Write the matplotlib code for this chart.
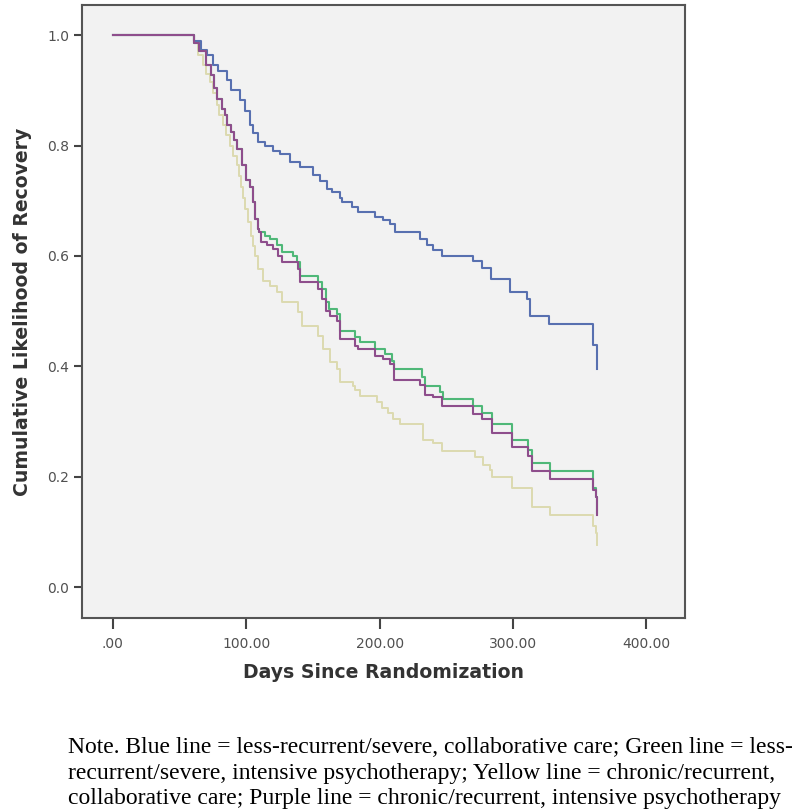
import numpy as np
import matplotlib.pyplot as plt

# Kaplan-Meier step curves: day at which the curve drops, and the new value
blue_t = [0, 61, 66, 70.3, 75, 79, 85.3, 89, 95.3, 99, 102.8, 105, 108.8, 114, 120,
          125.3, 132.8, 140.3, 150, 155.3, 160.3, 164, 170.3, 171.5, 179, 183.8,
          196.5, 202.5, 207.8, 211.5, 230.3, 235.3, 240, 246.5, 269.8, 276.5,
          283.3, 297.8, 310.3, 312.8, 327, 360.2, 362.8]
blue_s = [1.0, 0.989, 0.974, 0.964, 0.946, 0.935, 0.919, 0.9, 0.882, 0.862, 0.837,
          0.822, 0.807, 0.8, 0.791, 0.785, 0.771, 0.762, 0.746, 0.735, 0.722, 0.716,
          0.705, 0.698, 0.689, 0.68, 0.671, 0.665, 0.658, 0.644, 0.631, 0.619, 0.61,
          0.6, 0.59, 0.579, 0.558, 0.535, 0.522, 0.491, 0.476, 0.438, 0.395]

common_t = [0, 61, 65, 70, 74, 76, 78, 82, 84, 86, 89, 91, 93, 97, 100, 103, 105,
            107, 109, 110]
common_s = [1.0, 0.985, 0.971, 0.946, 0.928, 0.904, 0.885, 0.867, 0.855, 0.837,
            0.825, 0.81, 0.794, 0.764, 0.738, 0.725, 0.698, 0.667, 0.649, 0.644]

green_t = common_t + [114, 118, 123, 126.5, 135, 138, 140, 154, 156.5, 160, 162,
                      168, 170, 181.5, 185, 196.5, 204, 209, 210.5, 231.5, 234,
                      245, 247.5, 270, 276.5, 284, 299, 311, 314, 328, 360, 362.5, 363]
green_s = common_s + [0.637, 0.631, 0.619, 0.607, 0.6, 0.589, 0.564, 0.552, 0.54,
                      0.516, 0.504, 0.495, 0.464, 0.453, 0.444, 0.431, 0.422, 0.41,
                      0.395, 0.38, 0.364, 0.353, 0.34, 0.329, 0.316, 0.295, 0.267,
                      0.249, 0.225, 0.211, 0.18, 0.164, 0.135]

purple_t = common_t + [111.5, 116, 120, 124, 126.5, 139, 140.5, 154, 156.5, 160,
                       163, 168, 170.5, 181.5, 184, 196.5, 202.5, 208, 210.5, 230.5,
                       234, 240, 246.5, 270, 276.5, 284, 299, 311, 314, 328, 360,
                       362.5, 363]
purple_s = common_s + [0.625, 0.619, 0.613, 0.6, 0.589, 0.576, 0.553, 0.54, 0.522,
                       0.5, 0.491, 0.482, 0.449, 0.437, 0.431, 0.419, 0.413, 0.404,
                       0.376, 0.367, 0.349, 0.344, 0.328, 0.313, 0.304, 0.28, 0.253,
                       0.237, 0.211, 0.196, 0.176, 0.164, 0.13]

yellow_t = [0, 61, 64, 67.5, 70, 72.8, 75, 77.8, 80, 82.5, 85, 87.8, 90, 92.8, 95,
            96.5, 98, 99, 101.5, 104, 105.5, 106.5, 108.8, 112.5, 117.8, 122.8,
            126.5, 138.8, 141.5, 153.8, 157.5, 162.8, 167.8, 170.3, 180, 181.5,
            185.3, 197.8, 201.5, 206.3, 210, 215.3, 232.5, 240, 246.5, 271.5, 277.5,
            282.8, 284, 299, 314, 328, 360, 362.5, 363]
yellow_s = [1.0, 0.985, 0.965, 0.946, 0.93, 0.916, 0.895, 0.873, 0.855, 0.837, 0.82,
            0.8, 0.782, 0.764, 0.745, 0.725, 0.705, 0.685, 0.662, 0.637, 0.618, 0.6,
            0.576, 0.555, 0.546, 0.535, 0.516, 0.498, 0.473, 0.455, 0.431, 0.407,
            0.395, 0.371, 0.364, 0.358, 0.346, 0.335, 0.325, 0.316, 0.304, 0.295,
            0.267, 0.262, 0.246, 0.235, 0.222, 0.213, 0.2, 0.18, 0.146, 0.131, 0.11,
            0.098, 0.076]

xticks = [0, 100, 200, 300, 400]
xticklabels = [".00", "100.00", "200.00", "300.00", "400.00"]
yticks = [0.0, 0.2, 0.4, 0.6, 0.8, 1.0]
yticklabels = ["0.0", "0.2", "0.4", "0.6", "0.8", "1.0"]

note = ("Note. Blue line = less-recurrent/severe, collaborative care; Green line = less-\n"
        "recurrent/severe, intensive psychotherapy; Yellow line = chronic/recurrent,\n"
        "collaborative care; Purple line = chronic/recurrent, intensive psychotherapy")

fig = plt.figure(figsize=(8, 8.1), dpi=100)
ax = fig.add_axes([0.1025, 0.237, 0.754, 0.757])
ax.set_facecolor("#f2f2f2")

ax.step(yellow_t, yellow_s, where="post", color="#dcdab0", lw=1.4)
ax.step(blue_t, blue_s, where="post", color="#5870b0", lw=1.5)
ax.step(green_t, green_s, where="post", color="#4fb878", lw=1.5)
ax.step(purple_t, purple_s, where="post", color="#8e4e8c", lw=1.5)

ax.set_xlim(-23, 429)
ax.set_ylim(-0.056, 1.055)
ax.set_xticks(xticks)
ax.set_xticklabels(xticklabels)
ax.set_yticks(yticks)
ax.set_yticklabels(yticklabels)

for sp in ax.spines.values():
    sp.set_color("#555555")
    sp.set_linewidth(1.5)
ax.tick_params(axis="both", direction="out", color="#444444", width=1.5,
               labelcolor="#505050", labelsize=10)
ax.tick_params(axis="x", length=8, pad=6)
ax.tick_params(axis="y", length=6, pad=3)

ax.set_xlabel("Days Since Randomization", fontsize=13.6, fontweight="bold",
              color="#333333", labelpad=8)
ax.set_ylabel("Cumulative Likelihood of Recovery", fontsize=13.6, fontweight="bold",
              color="#333333", labelpad=11)

fig.text(0.085, 0.0455, note, family="Liberation Serif", fontsize=17,
         ha="left", va="center", linespacing=1.27, color="black")

fig.savefig("out.png", dpi=100, facecolor="white")
